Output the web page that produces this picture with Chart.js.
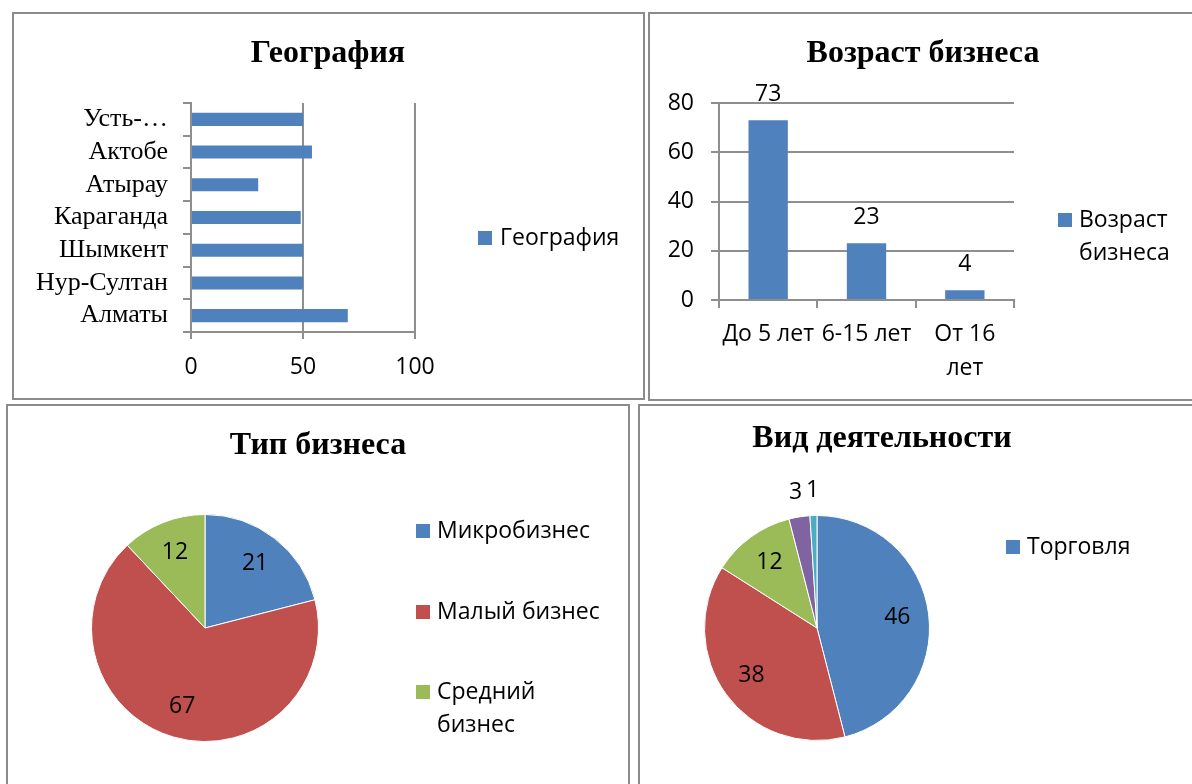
<!DOCTYPE html>
<html lang="ru">
<head>
<meta charset="utf-8">
<title>Структура бизнеса</title>
<script src="https://cdn.jsdelivr.net/npm/chart.js@4.4.1/dist/chart.umd.min.js"></script>
<style>
  html, body { margin: 0; padding: 0; background: #fff; width: 1192px; height: 784px; overflow: hidden; }
  .panel { position: absolute; border: 2px solid #8c8c8c; overflow: hidden; background: #fff; }
  .panel canvas { position: absolute; left: 0; top: 0; }
</style>
</head>
<body>
<div class="panel" style="left:12px;top:12px;width:629px;height:384px"><canvas id="geo" width="629" height="384"></canvas></div>
<div class="panel" style="left:648px;top:12px;width:600px;height:385px"><canvas id="age" width="542" height="385"></canvas></div>
<div class="panel" style="left:6px;top:404px;width:620px;height:400px"><canvas id="type" width="620" height="378"></canvas></div>
<div class="panel" style="left:638px;top:404px;width:600px;height:400px"><canvas id="activity" width="552" height="378"></canvas></div>

<script>
// ---- data ----
const geoCities = ['Алматы', 'Нур-Султан', 'Шымкент', 'Караганда', 'Атырау', 'Актобе', 'Усть-Каменогорск'];
const geoValues = [70, 50, 50, 49, 30, 54, 50];
const geoTicks = [0, 50, 100];

const ageGroups = ['До 5 лет', '6-15 лет', ['От 16', 'лет']];
const ageValues = [73, 23, 4];
const ageTicks = [0, 20, 40, 60, 80];

const typeNames = ['Микробизнес', 'Малый бизнес', 'Средний бизнес'];
const typeValues = [21, 67, 12];

const activityNames = ['Торговля', 'Услуги', 'Производство', 'Строительство', 'Сельское хозяйство'];
const activityValues = [46, 38, 12, 3, 1];

// ---- styles ----
const palette = ['#4F81BD', '#C0504D', '#9BBB59', '#8064A2', '#4BACC6'];
const axisGray = '#8e8e8e';
const SANS = "'Open Sans', 'Noto Sans', sans-serif";
const SERIF = "'Liberation Serif', 'Times New Roman', serif";
const TITLE_FONT = 'bold 32px ' + SERIF;
const TEXT_FONT = '23px ' + SANS;

Chart.defaults.font.family = SANS;
Chart.defaults.font.size = 23;
Chart.defaults.color = '#000';

// Greedy word wrap for legend entries
function wrapText(ctx, text, maxWidth) {
  if (Array.isArray(text)) return text;
  if (!maxWidth) return [text];
  const words = String(text).split(' ');
  const lines = [];
  let cur = '';
  for (const w of words) {
    const test = cur ? cur + ' ' + w : w;
    if (cur && ctx.measureText(test).width > maxWidth) { lines.push(cur); cur = w; }
    else cur = test;
  }
  if (cur) lines.push(cur);
  return lines;
}

// Title and legend drawn at fixed spots inside each panel
const panelDecor = {
  id: 'panelDecor',
  afterDraw(chart, args, o) {
    const ctx = chart.ctx;
    ctx.save();
    if (o.title) {
      ctx.font = TITLE_FONT;
      ctx.fillStyle = '#000';
      ctx.textAlign = 'center';
      ctx.textBaseline = 'middle';
      ctx.fillText(o.title.text, o.title.x, o.title.y);
    }
    if (o.legend) {
      const L = o.legend;
      let items;
      try {
        items = chart.options.plugins.legend.labels.generateLabels(chart);
      } catch (e) {
        items = chart.data.labels.map((t, i) => ({ text: t, fillStyle: chart.data.datasets[0].backgroundColor[i] }));
      }
      if (L.count) items = items.slice(0, L.count);
      ctx.font = TEXT_FONT;
      ctx.textAlign = 'left';
      ctx.textBaseline = 'middle';
      items.forEach((it, i) => {
        const y = L.y[i];
        ctx.fillStyle = it.fillStyle;
        ctx.fillRect(L.x, y - L.box / 2, L.box, L.box);
        ctx.fillStyle = '#000';
        wrapText(ctx, it.text, L.maxWidth).forEach((line, j) => {
          ctx.fillText(line, L.x + L.box + L.gap, y + j * L.lineHeight);
        });
      });
    }
    ctx.restore();
  }
};

// Value labels: above bars, inside (or just outside for thin) pie slices
const valueLabels = {
  id: 'valueLabels',
  afterDatasetsDraw(chart, args, o) {
    const ctx = chart.ctx;
    ctx.save();
    ctx.font = TEXT_FONT;
    ctx.fillStyle = '#000';
    ctx.textAlign = 'center';
    ctx.textBaseline = 'middle';
    chart.data.datasets.forEach((ds, di) => {
      const meta = chart.getDatasetMeta(di);
      const total = ds.data.reduce((a, b) => a + b, 0);
      meta.data.forEach((el, i) => {
        const v = ds.data[i];
        let x, y;
        if (meta.type === 'bar') {
          x = el.x; y = el.y - o.offset;
        } else {
          const mid = (el.startAngle + el.endAngle) / 2;
          const r = v / total < o.outsideBelow ? el.outerRadius + o.outsideOffset : el.outerRadius * o.insideRatio;
          x = el.x + Math.cos(mid) * r;
          y = el.y + Math.sin(mid) * r;
        }
        ctx.fillText(String(v), x, y);
      });
    });
    ctx.restore();
  }
};

const common = { responsive: false, animation: false, events: [] };

// ---- География: horizontal bars ----
new Chart(document.getElementById('geo'), {
  type: 'bar',
  data: {
    labels: geoCities,
    datasets: [{ label: 'География', data: geoValues, backgroundColor: palette[0], barPercentage: 0.4, categoryPercentage: 1 }]
  },
  options: {
    ...common,
    indexAxis: 'y',
    layout: { padding: { left: 7, right: 228, top: 89, bottom: 16 } },
    scales: {
      x: {
        min: geoTicks[0], max: geoTicks[geoTicks.length - 1],
        afterBuildTicks: s => { s.ticks = geoTicks.map(v => ({ value: v })); },
        afterFit: s => { s.height = 50; },
        grid: { color: axisGray, lineWidth: 2, tickLength: 7 },
        border: { color: axisGray, width: 2 },
        ticks: { color: '#000', padding: 15 }
      },
      y: {
        reverse: true,
        afterFit: s => { s.width = 170; },
        grid: { drawOnChartArea: false, color: axisGray, lineWidth: 2, tickLength: 8 },
        border: { color: axisGray, width: 2 },
        ticks: {
          autoSkip: false,
          color: '#000', padding: 15, font: { family: SERIF, size: 26 },
          callback: function (v) {
            const s = this.getLabelForValue(v);
            return s.length > 12 ? s.slice(0, s.indexOf('-') + 1) + '…' : s;
          }
        }
      }
    },
    plugins: {
      legend: { display: false }, tooltip: { enabled: false },
      panelDecor: {
        title: { text: 'География', x: 314, y: 40 },
        legend: { x: 464, y: [224], box: 14, gap: 8, lineHeight: 33 }
      }
    }
  },
  plugins: [panelDecor]
});

// ---- Возраст бизнеса: columns ----
new Chart(document.getElementById('age'), {
  type: 'bar',
  data: {
    labels: ageGroups,
    datasets: [{ label: 'Возраст бизнеса', data: ageValues, backgroundColor: palette[0], barPercentage: 0.4, categoryPercentage: 1 }]
  },
  options: {
    ...common,
    layout: { padding: { left: 9, right: 178, top: 89, bottom: 19 } },
    scales: {
      x: {
        afterFit: s => { s.height = 80; },
        grid: { drawOnChartArea: false, color: axisGray, lineWidth: 2, tickLength: 8 },
        border: { color: axisGray, width: 2 },
        ticks: { autoSkip: false, color: '#000', padding: 9, maxRotation: 0, font: { size: 23, lineHeight: 1.48 } }
      },
      y: {
        min: ageTicks[0], max: ageTicks[ageTicks.length - 1],
        afterBuildTicks: s => { s.ticks = ageTicks.map(v => ({ value: v })); },
        afterFit: s => { s.width = 60; },
        grid: { color: axisGray, lineWidth: 2, tickLength: 8 },
        border: { color: axisGray, width: 2 },
        ticks: { color: '#000', padding: 17 }
      }
    },
    plugins: {
      legend: { display: false }, tooltip: { enabled: false },
      panelDecor: {
        title: { text: 'Возраст бизнеса', x: 273, y: 40 },
        legend: { x: 408, y: [206], box: 14, gap: 7, lineHeight: 33, maxWidth: 110 }
      },
      valueLabels: { offset: 26 }
    }
  },
  plugins: [panelDecor, valueLabels]
});

// ---- Тип бизнеса: pie ----
new Chart(document.getElementById('type'), {
  type: 'pie',
  data: {
    labels: typeNames,
    datasets: [{ data: typeValues, backgroundColor: palette.slice(0, typeValues.length), borderColor: '#ffffff', borderWidth: 1 }]
  },
  options: {
    ...common,
    layout: { padding: { left: 83, right: 309, top: 108, bottom: 42 } },
    plugins: {
      legend: { display: false }, tooltip: { enabled: false },
      panelDecor: {
        title: { text: 'Тип бизнеса', x: 310, y: 40 },
        legend: { x: 408, y: [125, 206, 286], box: 14, gap: 7, lineHeight: 33, maxWidth: 175 }
      },
      valueLabels: { insideRatio: 0.72, outsideBelow: 0.05, outsideOffset: 25 }
    }
  },
  plugins: [panelDecor, valueLabels]
});

// ---- Вид деятельности: pie ----
new Chart(document.getElementById('activity'), {
  type: 'pie',
  data: {
    labels: activityNames,
    datasets: [{ data: activityValues, backgroundColor: palette.slice(0, activityValues.length), borderColor: '#ffffff', borderWidth: 1 }]
  },
  options: {
    ...common,
    layout: { padding: { left: 64, right: 262, top: 109, bottom: 43 } },
    plugins: {
      legend: { display: false }, tooltip: { enabled: false },
      panelDecor: {
        title: { text: 'Вид деятельности', x: 242, y: 33 },
        legend: { x: 366, y: [141], box: 14, gap: 7, lineHeight: 33, count: 1 }
      },
      valueLabels: { insideRatio: 0.72, outsideBelow: 0.05, outsideOffset: 25 }
    }
  },
  plugins: [panelDecor, valueLabels]
});
</script>
</body>
</html>
